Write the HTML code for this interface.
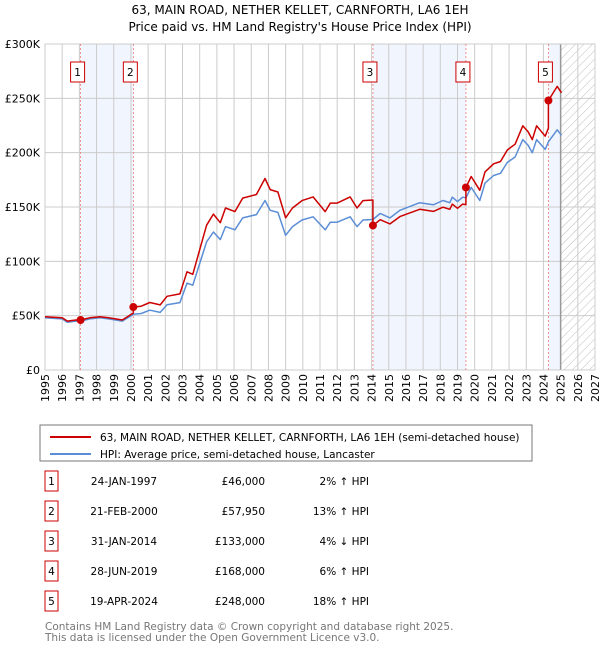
<!DOCTYPE html>
<html><head><meta charset="utf-8"><style>
body{margin:0;background:#fff;font-family:"DejaVu Sans","Liberation Sans",sans-serif;}
svg text{font-family:"DejaVu Sans","Liberation Sans",sans-serif;}
</style></head><body>
<svg id="c" width="600" height="650" xmlns="http://www.w3.org/2000/svg">
<defs><pattern id="hatch" width="6" height="6" patternUnits="userSpaceOnUse" patternTransform="rotate(45)"><line x1="0" y1="0" x2="0" y2="6" stroke="#bbb" stroke-width="1"/></pattern></defs>
<text x="300" y="14" text-anchor="middle" font-size="12" fill="#000">63, MAIN ROAD, NETHER KELLET, CARNFORTH, LA6 1EH</text>
<text x="300" y="31" text-anchor="middle" font-size="12" fill="#000">Price paid vs. HM Land Registry's House Price Index (HPI)</text>
<g id="plot"></g>
<rect x="40" y="425" width="492" height="36" fill="#fff" stroke="#777"/>
<line x1="50" y1="437" x2="91" y2="437" stroke="#cc0000" stroke-width="2"/>
<text x="100" y="441" font-size="10.5">63, MAIN ROAD, NETHER KELLET, CARNFORTH, LA6 1EH (semi-detached house)</text>
<line x1="50" y1="454" x2="91" y2="454" stroke="#5b8ed6" stroke-width="2"/>
<text x="100" y="458" font-size="10.5">HPI: Average price, semi-detached house, Lancaster</text>
<g id="table"></g>
<text x="45" y="630" font-size="10.5" fill="#777">Contains HM Land Registry data © Crown copyright and database right 2025.</text>
<text x="45" y="641" font-size="10.5" fill="#777">This data is licensed under the Open Government Licence v3.0.</text>
</svg>
<script>
const hpiYears=[1995.0,1995.5,1996.0,1996.3,1996.8,1997.07,1997.6,1998.2,1998.7,1999.1,1999.5,2000.14,2000.6,2001.1,2001.7,2002.1,2002.85,2003.26,2003.6,2004.0,2004.4,2004.8,2005.2,2005.5,2006.05,2006.5,2007.3,2007.8,2008.1,2008.55,2009.0,2009.4,2009.95,2010.6,2011.3,2011.6,2012.0,2012.75,2013.15,2013.5,2014.08,2014.5,2015.07,2015.65,2016.8,2017.6,2018.15,2018.55,2018.7,2019.0,2019.3,2019.49,2019.8,2020.3,2020.6,2021.1,2021.5,2021.9,2022.35,2022.8,2023.1,2023.35,2023.6,2024.1,2024.29,2024.8,2025.05];
const hpiValues=[48,47.5,47,44,45,45,47,48,47,46,45,51.3,52,55,53,60,62,80,78,98,118,127,120,132,129,140,143,156,147,145,124,132,138,141,129,136,136,141,132,138,138.5,144,140,147,154,152,156,154,159,155,159,158.5,168,156,172,179,181,191,196,212,207,200,212,203,210,221,216];
const saleYears=[1997.07,2000.14,2014.08,2019.49,2024.29];
const salePrices=[46,57.95,133,168,248];
const saleLabels=["1","2","3","4","5"];
const saleDates=["24-JAN-1997","21-FEB-2000","31-JAN-2014","28-JUN-2019","19-APR-2024"];
const salePriceText=["£46,000","£57,950","£133,000","£168,000","£248,000"];
const saleHpiText=["2% ↑ HPI","13% ↑ HPI","4% ↓ HPI","6% ↑ HPI","18% ↑ HPI"];
const yTicks=[0,50,100,150,200,250,300];
const yTickLabels=["£0","£50K","£100K","£150K","£200K","£250K","£300K"];
const xTicks=[1995,1996,1997,1998,1999,2000,2001,2002,2003,2004,2005,2006,2007,2008,2009,2010,2011,2012,2013,2014,2015,2016,2017,2018,2019,2020,2021,2022,2023,2024,2025,2026,2027];

const X0=45,X1=595,Y0=370,Y1=44;
const xs=y=>X0+(y-1995)/(2027-1995)*(X1-X0);
const ys=v=>Y0-(v/300)*(Y0-Y1);
const NS="http://www.w3.org/2000/svg";
const plot=document.getElementById('plot');
function mk(tag,attrs,parent){const e=document.createElementNS(NS,tag);for(const k in attrs)e.setAttribute(k,attrs[k]);(parent||plot).appendChild(e);return e;}
function hpiAt(t){for(let i=0;i<hpiYears.length-1;i++){if(t>=hpiYears[i]&&t<=hpiYears[i+1]){const f=(t-hpiYears[i])/(hpiYears[i+1]-hpiYears[i]);return hpiValues[i]+f*(hpiValues[i+1]-hpiValues[i]);}}return hpiValues[hpiValues.length-1];}

let bg=mk('rect',{x:X0,y:Y1,width:X1-X0,height:Y0-Y1,fill:'#fff'});


[[0,1],[2,3]].forEach((p,i)=>{let r=mk('rect',{x:xs(saleYears[p[0]]),y:Y1,width:xs(saleYears[p[1]])-xs(saleYears[p[0]]),height:Y0-Y1,fill:'#eef3fc',opacity:0.8});

});
let b5=mk('rect',{x:xs(saleYears[4]),y:Y1,width:xs(2025)-xs(saleYears[4]),height:Y0-Y1,fill:'#eef3fc',opacity:0.8});


let hz=mk('rect',{x:xs(2025),y:Y1,width:X1-xs(2025),height:Y0-Y1,fill:'url(#hatch)'});


xTicks.forEach((t,i)=>{let l=mk('line',{x1:xs(t),x2:xs(t),y1:Y1,y2:Y0,stroke:'#ccc','stroke-width':1});


let tx=mk('text',{x:0,y:0,'font-size':11,'text-anchor':'end',transform:`translate(${xs(t)+4},${Y0+4}) rotate(-90)`});tx.textContent=t;

});
yTicks.forEach((v,i)=>{let l=mk('line',{x1:X0,x2:X1,y1:ys(v),y2:ys(v),stroke:'#ccc','stroke-width':1});


let tx=mk('text',{x:X0-5,y:ys(v)+4,'font-size':11,'text-anchor':'end'});tx.textContent=yTickLabels[i];

});
let nl=mk('line',{x1:xs(2025),x2:xs(2025),y1:Y1,y2:Y0,stroke:'#999','stroke-width':1.5});


let fr=mk('rect',{x:X0,y:Y1,width:X1-X0,height:Y0-Y1,fill:'none',stroke:'#ccc'});


saleYears.forEach((t,i)=>{let l=mk('line',{x1:xs(t),x2:xs(t),y1:Y1,y2:Y0,stroke:'#ee7777','stroke-width':0.8,'stroke-dasharray':'2,2'});


let r=mk('rect',{x:xs(t)-10,y:62,width:14,height:20,fill:'#fff',stroke:'#cc0000'});


let tx=mk('text',{x:xs(t)-3,y:76,'font-size':10.5,'text-anchor':'middle'});tx.textContent=saleLabels[i];

});
let d='';hpiYears.forEach((t,i)=>{d+=(i?'L':'M')+xs(t).toFixed(1)+','+ys(hpiValues[i]).toFixed(1);});
let hp=mk('path',{d:d,fill:'none',stroke:'#5b8ed6','stroke-width':1.5,'stroke-linejoin':'round'});


const factors=saleYears.map((t,i)=>salePrices[i]/hpiAt(t));
let pts=[];
hpiYears.forEach((t,i)=>{let k=0;for(let j=0;j<saleYears.length;j++)if(t>=saleYears[j])k=j;pts.push([t,hpiValues[i]*factors[k]]);});
saleYears.forEach((t,j)=>{if(j>0)pts.push([t-0.001,hpiAt(t)*factors[j-1]]);pts.push([t,salePrices[j]]);});
pts.sort((a,b)=>a[0]-b[0]);
let d2='';pts.forEach((p,i)=>{d2+=(i?'L':'M')+xs(p[0]).toFixed(1)+','+ys(p[1]).toFixed(1);});
let pp=mk('path',{d:d2,fill:'none',stroke:'#cc0000','stroke-width':1.5,'stroke-linejoin':'round'});


saleYears.forEach((t,i)=>{let c=mk('circle',{cx:xs(t),cy:ys(salePrices[i]),r:4,fill:'#cc0000'});

});
const tb=document.getElementById('table');
saleYears.forEach((t,i)=>{const y=483+i*30;
let r=mk('rect',{x:45,y:y-12,width:13,height:20,fill:'#fff',stroke:'#cc0000'},tb);


let a=mk('text',{x:51.5,y:y+2,'font-size':10.5,'text-anchor':'middle'},tb);a.textContent=saleLabels[i];


let b=mk('text',{x:124,y:y+2,'font-size':10.5,'text-anchor':'middle'},tb);b.textContent=saleDates[i];


let c=mk('text',{x:265,y:y+2,'font-size':10.5,'text-anchor':'end'},tb);c.textContent=salePriceText[i];


let e=mk('text',{x:369,y:y+2,'font-size':10.5,'text-anchor':'end'},tb);e.textContent=saleHpiText[i];

});
</script>
</body></html>
